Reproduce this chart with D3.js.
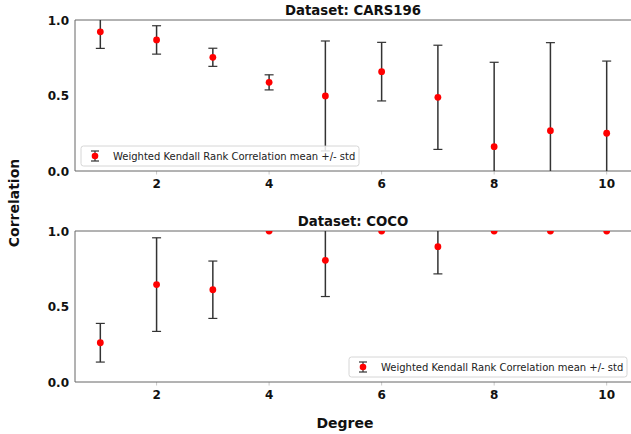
<!DOCTYPE html>
<html>
<head>
<meta charset="utf-8">
<script src="https://cdn.jsdelivr.net/npm/d3@7"></script>
<style>
  body { margin: 0; background: #fff; }
  svg { font-family: "DejaVu Sans", sans-serif; }
</style>
</head>
<body>
<div id="chart"></div>
<script>
// degrees on the x axis
const degrees = [1, 2, 3, 4, 5, 6, 7, 8, 9, 10];
// CARS196 mean and std
const carsMean = [0.922, 0.868, 0.753, 0.587, 0.497, 0.658, 0.488, 0.161, 0.267, 0.25];
const carsStd = [0.11, 0.094, 0.06, 0.05, 0.364, 0.194, 0.345, 0.559, 0.583, 0.478];
// COCO mean and std
const cocoMean = [0.26, 0.645, 0.611, 1.0, 0.806, 1.0, 0.896, 1.0, 1.0, 1.0];
const cocoStd = [0.128, 0.31, 0.19, 0, 0.24, 0, 0.18, 0, 0, 0];
const xTicks = [2, 4, 6, 8, 10];
const yTicks = [0, 0.5, 1.0];
const legendText = "Weighted Kendall Rank Correlation mean +/- std";

const W = 631, H = 434;
const svg = d3.select("#chart").append("svg").attr("width", W).attr("height", H);

const x = d3.scaleLinear().domain([0.55, 10.45]).range([75, 632]);

// draw one panel
const drawPanel = (top, bottom, title, means, stds, legendPos, id) => {
    const y = d3.scaleLinear().domain([0, 1]).range([bottom, top]);
    const g = svg.append("g");
    g.append("clipPath").attr("id", id).append("rect")
        .attr("x", 75).attr("y", top).attr("width", 557).attr("height", bottom - top);

    // x ticks
    g.selectAll(".xt").data(xTicks).join("line")
        .attr("x1", d => x(d)).attr("x2", d => x(d))
        .attr("y1", bottom).attr("y2", bottom + 3.5)
        .attr("stroke", "#bbb").attr("stroke-width", 0.8);
    g.selectAll(".xl").data(xTicks).join("text")
        .attr("x", d => x(d)).attr("y", bottom + 17)
        .attr("text-anchor", "middle").attr("font-size", 12).attr("font-weight", "bold")
        .attr("fill", "#111").text(d => d);
    // y labels
    g.selectAll(".yl").data(yTicks).join("text")
        .attr("x", 69).attr("y", d => y(d) + 4.5)
        .attr("text-anchor", "end").attr("font-size", 12).attr("font-weight", "bold")
        .attr("fill", "#111").text(d => d3.format(".1f")(d));

    // spines
    g.append("line").attr("x1", 75).attr("x2", 632).attr("y1", top).attr("y2", top)
        .attr("stroke", "#666").attr("stroke-width", 1);
    g.append("line").attr("x1", 75).attr("x2", 632).attr("y1", bottom).attr("y2", bottom)
        .attr("stroke", "#666").attr("stroke-width", 1);
    g.append("line").attr("x1", 75).attr("x2", 75).attr("y1", top).attr("y2", bottom)
        .attr("stroke", "#666").attr("stroke-width", 1);

    const rows = degrees.map((d, i) => ({ d: d, m: means[i], s: stds[i] }));
    const marks = g.append("g").attr("clip-path", `url(#${id})`);
    const bars = rows.filter(r => r.s > 0);
    marks.selectAll(".eb").data(bars).join("line")
        .attr("x1", r => x(r.d)).attr("x2", r => x(r.d))
        .attr("y1", r => y(r.m - r.s)).attr("y2", r => y(r.m + r.s))
        .attr("stroke", "#333").attr("stroke-width", 1.5);
    ["lo", "hi"].forEach(k => {
        marks.selectAll(".cap" + k).data(bars).join("line")
            .attr("x1", r => x(r.d) - 4.5).attr("x2", r => x(r.d) + 4.5)
            .attr("y1", r => y(k == "lo" ? r.m - r.s : r.m + r.s))
            .attr("y2", r => y(k == "lo" ? r.m - r.s : r.m + r.s))
            .attr("stroke", "#333").attr("stroke-width", 1.2);
    });
    marks.selectAll(".pt").data(rows).join("circle")
        .attr("cx", r => x(r.d)).attr("cy", r => y(r.m)).attr("r", 3.4)
        .attr("fill", "red");

    // title
    g.append("text").attr("x", 353).attr("y", top - 5).attr("text-anchor", "middle")
        .attr("font-size", 13.3).attr("font-weight", "bold").attr("fill", "#111").text(title);

    // legend
    const lw = 278, lh = 20;
    const lx = legendPos == "left" ? 81 : 627 - lw;
    const ly = bottom - 5 - lh;
    const lg = g.append("g").attr("transform", `translate(${lx},${ly})`);
    lg.append("rect").attr("width", lw).attr("height", lh).attr("rx", 2.5)
        .attr("fill", "white").attr("fill-opacity", 0.85)
        .attr("stroke", "#ccc").attr("stroke-width", 0.8);
    lg.append("line").attr("x1", 14).attr("x2", 14).attr("y1", 5).attr("y2", 15)
        .attr("stroke", "#333").attr("stroke-width", 1.2);
    [5, 15].forEach(v => lg.append("line").attr("x1", 10).attr("x2", 18)
        .attr("y1", v).attr("y2", v).attr("stroke", "#333").attr("stroke-width", 1.2));
    lg.append("circle").attr("cx", 14).attr("cy", 10).attr("r", 3.3).attr("fill", "red");
    lg.append("text").attr("x", 32).attr("y", 14).attr("font-size", 10)
        .attr("fill", "#222").text(legendText);
};

drawPanel(20, 171, "Dataset: CARS196", carsMean, carsStd, "left", "clipA");
drawPanel(231, 382, "Dataset: COCO", cocoMean, cocoStd, "right", "clipB");

// shared axis labels
svg.append("text").attr("transform", "translate(19,203) rotate(-90)")
    .attr("text-anchor", "middle").attr("font-size", 14).attr("font-weight", "bold")
    .attr("fill", "#111").text("Correlation");
svg.append("text").attr("x", 345).attr("y", 428).attr("text-anchor", "middle")
    .attr("font-size", 14).attr("font-weight", "bold").attr("fill", "#111").text("Degree");
</script>
</body>
</html>
